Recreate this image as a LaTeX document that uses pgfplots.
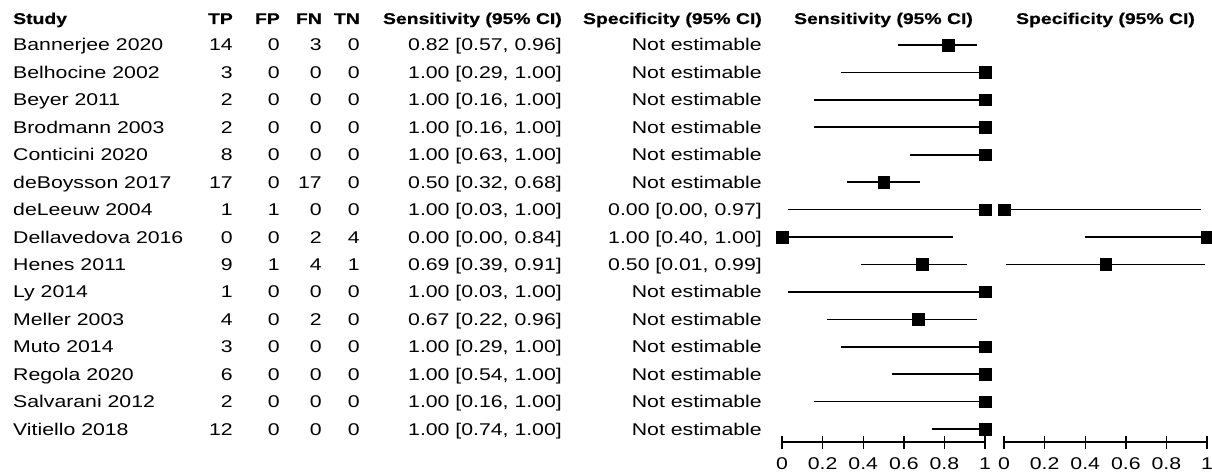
\documentclass[border=0pt]{standalone}
\usepackage{pgfplots}
\usepackage{pgfplotstable}
\pgfplotsset{compat=1.18}
\usepackage{fontspec}
\setmainfont{Liberation Sans}[FakeStretch=1.25, BoldFeatures={FakeBold=0.6}]

% Diagnostic accuracy per study: 2x2 counts, sensitivity and specificity with 95% CI
\pgfplotstableread[col sep=comma,row sep=\\]{
study,TP,FP,FN,TN,sens,senslo,senshi,spec,speclo,spechi\\
Bannerjee 2020,14,0,3,0,0.82,0.57,0.96,nan,nan,nan\\
Belhocine 2002,3,0,0,0,1.00,0.29,1.00,nan,nan,nan\\
Beyer 2011,2,0,0,0,1.00,0.16,1.00,nan,nan,nan\\
Brodmann 2003,2,0,0,0,1.00,0.16,1.00,nan,nan,nan\\
Conticini 2020,8,0,0,0,1.00,0.63,1.00,nan,nan,nan\\
deBoysson 2017,17,0,17,0,0.50,0.32,0.68,nan,nan,nan\\
deLeeuw 2004,1,1,0,0,1.00,0.03,1.00,0.00,0.00,0.97\\
Dellavedova 2016,0,0,2,4,0.00,0.00,0.84,1.00,0.40,1.00\\
Henes 2011,9,1,4,1,0.69,0.39,0.91,0.50,0.01,0.99\\
Ly 2014,1,0,0,0,1.00,0.03,1.00,nan,nan,nan\\
Meller 2003,4,0,2,0,0.67,0.22,0.96,nan,nan,nan\\
Muto 2014,3,0,0,0,1.00,0.29,1.00,nan,nan,nan\\
Regola 2020,6,0,0,0,1.00,0.54,1.00,nan,nan,nan\\
Salvarani 2012,2,0,0,0,1.00,0.16,1.00,nan,nan,nan\\
Vitiello 2018,12,0,0,0,1.00,0.74,1.00,nan,nan,nan\\
}\studies

\newcommand\rowfont{\fontsize{17}{20}\selectfont}
\newcommand\headfont{\fontsize{15.5}{18}\selectfont\bfseries}

\pgfplotsset{
  forest/.style={
    scale only axis, width=203pt, height=412pt,
    xmin=0, xmax=1, ymin=-14.473, ymax=0.547,
    axis x line=bottom, axis y line=none,
    x axis line style={-, line width=1.4pt},
    xtick={0,0.2,0.4,0.6,0.8,1},
    xticklabels={0,0.2,0.4,0.6,0.8,1},
    xtick align=center, major tick length=13pt,
    every tick/.style={black, line width=1.4pt},
    xticklabel style={font=\rowfont, inner sep=0pt, anchor=north, yshift=-9pt},
    clip=false,
  },
  ci/.style={only marks, mark=square*, mark size=5.8pt, black,
    error bars/.cd, x dir=both, x explicit, error mark=none,
    error bar style={line width=1.6pt, black}},
}

\begin{document}
\begin{tikzpicture}[x=1pt, y=1pt]
\useasboundingbox (0pt,0pt) rectangle (1212pt,472pt);

% column headings
\begin{scope}[every node/.style={inner sep=0pt, font=\headfont}]
  \node[anchor=base west] at (13,448) {Study};
  \node[anchor=base east] at (233,448) {TP};
  \node[anchor=base east] at (280,448) {FP};
  \node[anchor=base east] at (322,448) {FN};
  \node[anchor=base east] at (360,448) {TN};
  \node[anchor=base east] at (562,448) {Sensitivity (95\% CI)};
  \node[anchor=base east] at (762,448) {Specificity (95\% CI)};
  \node[anchor=base] at (883.5,448) {Sensitivity (95\% CI)};
  \node[anchor=base] at (1105.5,448) {Specificity (95\% CI)};
\end{scope}

% study rows, typeset from the table
\foreach \i in {0,...,14}{
  \pgfmathsetmacro\yy{472-(45+27.43*\i)-6}
  \pgfplotstablegetelem{\i}{study}\of\studies \let\st\pgfplotsretval
  \pgfplotstablegetelem{\i}{TP}\of\studies \let\tp\pgfplotsretval
  \pgfplotstablegetelem{\i}{FP}\of\studies \let\fp\pgfplotsretval
  \pgfplotstablegetelem{\i}{FN}\of\studies \let\fn\pgfplotsretval
  \pgfplotstablegetelem{\i}{TN}\of\studies \let\tn\pgfplotsretval
  \pgfplotstablegetelem{\i}{sens}\of\studies \let\se\pgfplotsretval
  \pgfplotstablegetelem{\i}{senslo}\of\studies \let\sel\pgfplotsretval
  \pgfplotstablegetelem{\i}{senshi}\of\studies \let\seh\pgfplotsretval
  \pgfplotstablegetelem{\i}{spec}\of\studies \let\sp\pgfplotsretval
  \pgfplotstablegetelem{\i}{speclo}\of\studies \let\spl\pgfplotsretval
  \pgfplotstablegetelem{\i}{spechi}\of\studies \let\sph\pgfplotsretval
  \pgfmathtruncatemacro\nneg{\fp+\tn}
  \begin{scope}[every node/.style={inner sep=0pt, font=\rowfont},
      /pgf/number format/.cd, fixed, fixed zerofill, precision=2, assume math mode=true]
    \node[anchor=base west] at (13,\yy) {\st};
    \node[anchor=base east] at (233,\yy) {\tp};
    \node[anchor=base east] at (280,\yy) {\fp};
    \node[anchor=base east] at (322,\yy) {\fn};
    \node[anchor=base east] at (360,\yy) {\tn};
    \node[anchor=base east] at (562,\yy)
      {\pgfmathprintnumber{\se} [\pgfmathprintnumber{\sel}, \pgfmathprintnumber{\seh}]};
    \ifnum\nneg=0
      \node[anchor=base east] at (762,\yy) {Not estimable};
    \else
      \node[anchor=base east] at (762,\yy)
        {\pgfmathprintnumber{\sp} [\pgfmathprintnumber{\spl}, \pgfmathprintnumber{\sph}]};
    \fi
  \end{scope}
}

% sensitivity forest plot
\begin{axis}[forest, at={(782pt,30pt)}, anchor=south west]
  \addplot[ci] table[x=sens, y expr=-\coordindex,
    x error plus expr=\thisrow{senshi}-\thisrow{sens},
    x error minus expr=\thisrow{sens}-\thisrow{senslo}] {\studies};
\end{axis}

% specificity forest plot
\begin{axis}[forest, at={(1004pt,30pt)}, anchor=south west]
  \addplot[ci] table[x=spec, y expr=-\coordindex,
    x error plus expr=\thisrow{spechi}-\thisrow{spec},
    x error minus expr=\thisrow{spec}-\thisrow{speclo}] {\studies};
\end{axis}
\end{tikzpicture}
\end{document}
